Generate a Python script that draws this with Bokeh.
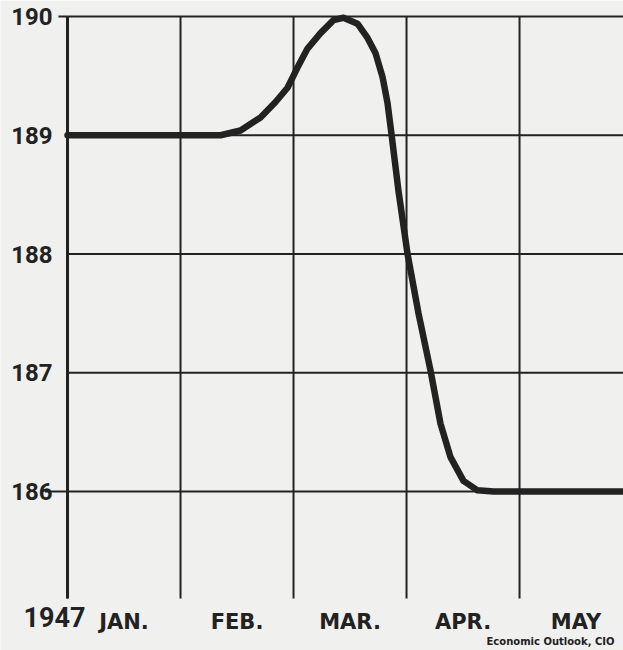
from bokeh.plotting import figure
from bokeh.models import Range1d
from bokeh.core.properties import value
from bokeh.embed import file_html
from bokeh.resources import INLINE

# month index: 0 = Jan. 1, 1 = Feb. 1, ...
months = [0.0, 1.0, 1.354, 1.531, 1.708, 1.841, 1.947, 2.035, 2.124, 2.239, 2.354,
          2.442, 2.566, 2.655, 2.726, 2.788, 2.832, 2.867, 2.929, 3.009, 3.106,
          3.212, 3.301, 3.389, 3.504, 3.628, 3.77, 4.0, 4.92]
values = [189.0, 189.0, 189.0, 189.04, 189.15, 189.28, 189.40, 189.57, 189.73, 189.86,
          189.97, 189.99, 189.94, 189.82, 189.69, 189.49, 189.27, 189.01, 188.53,
          188.0, 187.50, 187.02, 186.57, 186.29, 186.09, 186.01, 186.0, 186.0, 186.0]

y_ticks = [186, 187, 188, 189, 190]
y_tick_labels = ["186", "187", "188", "189", "190"]
month_lines = [0, 1, 2, 3, 4]
month_label_pos = [0.5, 1.5, 2.5, 3.5, 4.5]
month_labels = ["JAN.", "FEB.", "MAR.", "APR.", "MAY"]
year_label = ["1947"]
source = ["Economic Outlook, CIO"]

# chart extent in data units (months / index)
X_MIN, X_MAX = -0.593, 4.92
Y_MIN, Y_MAX = 184.661, 190.135
GRID_BOTTOM = 185.099

PAPER = "#f0f0ee"
INK = "#222222"
LBL = "DejaVu Sans"
NUM = "Roboto"

p = figure(width=623, height=650, output_backend="svg", toolbar_location=None,
           x_range=Range1d(X_MIN, X_MAX), y_range=Range1d(Y_MIN, Y_MAX),
           min_border=0)
p.background_fill_color = PAPER
p.border_fill_color = PAPER
p.outline_line_color = None
p.axis.visible = False
p.grid.visible = False

# grid
p.segment(x0=month_lines[0], x1=X_MAX, y0=y_ticks, y1=y_ticks,
          line_color=INK, line_width=2)
p.segment(x0=month_lines, x1=month_lines, y0=GRID_BOTTOM, y1=y_ticks[-1],
          line_color=INK, line_width=2)
p.segment(x0=[-0.2], x1=[month_lines[0]], y0=[y_ticks[0]], y1=[y_ticks[0]],
          line_color=INK, line_width=2)
p.segment(x0=[-0.08], x1=[month_lines[0]], y0=[y_ticks[-1]], y1=[y_ticks[-1]],
          line_color=INK, line_width=2)
p.segment(x0=[month_lines[0]], x1=[month_lines[0]], y0=[GRID_BOTTOM], y1=[y_ticks[-1]],
          line_color=INK, line_width=3)

# y tick labels
p.text(x=[-0.133] * len(y_ticks), y=y_ticks, text=y_tick_labels,
       text_align="right", text_baseline="middle", text_font=value(NUM),
       text_font_style="bold", text_font_size="24px", text_color=INK)

# month labels
p.text(x=month_label_pos, y=[184.905] * len(month_label_pos), text=month_labels,
       text_align="center", text_baseline="middle", text_font=value(LBL),
       text_font_style="bold", text_font_size="21px", text_color=INK)

# year
p.text(x=[-0.115], y=[184.939], text=year_label,
       text_align="center", text_baseline="middle", text_font=value(NUM),
       text_font_style="bold", text_font_size="27px", text_color=INK)

# source
p.text(x=[3.708], y=[184.733], text=source,
       text_align="left", text_baseline="middle", text_font=value(LBL),
       text_font_style="bold", text_font_size="10px", text_color=INK)

# data line
p.line(months, values, line_width=6.5, line_color=INK, line_join="round", line_cap="round")

open("out.html", "w").write(file_html(p, INLINE))
